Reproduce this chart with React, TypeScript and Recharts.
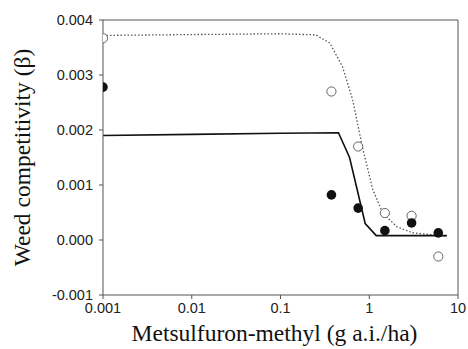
import { ComposedChart, Line, Scatter, XAxis, YAxis, ReferenceLine, Label } from "recharts";

// metsulfuron-methyl doses (control plotted at 0.001)
const doses = [0.001, 0.375, 0.75, 1.5, 3, 6];
const filledVals = [0.00278, 0.00082, 0.00058, 0.00017, 0.00031, 0.00013];
const openVals = [0.00367, 0.0027, 0.0017, 0.00049, 0.00044, -0.0003];

// fitted curves
const solidFitX = [0.001, 0.01, 0.1, 0.45, 0.6, 0.9, 1.2, 7.5];
const solidFitY = [0.0019, 0.00192, 0.00194, 0.00195, 0.0015, 0.0003, 0.00008, 0.00008];
const dottedFitX = [0.001, 0.1, 0.25, 0.36, 0.5, 0.65, 0.85, 1.1, 1.42, 2.05, 3.1, 7.4];
const dottedFitY = [0.00372, 0.00375, 0.00373, 0.00358, 0.00315, 0.00255, 0.00164, 0.00091, 0.00049, 0.00024, 0.00013, 0.00007];

const xTicks = [0.001, 0.01, 0.1, 1, 10];
const yTicks = [-0.001, 0, 0.001, 0.002, 0.003, 0.004];

const filled = doses.map((x, i) => ({ x, y: filledVals[i] }));
const open = doses.map((x, i) => ({ x, y: openVals[i] }));
const solidFit = solidFitX.map((x, i) => ({ x, y: solidFitY[i] }));
const dottedFit = dottedFitX.map((x, i) => ({ x, y: dottedFitY[i] }));

const tickStyle = { fill: "#222", fontSize: 14.5, fontFamily: "Liberation Sans, Arial, sans-serif" };
const titleStyle = { fill: "#111", fontSize: 23.5, fontFamily: "Liberation Serif, Times New Roman, serif" };

const FilledDot = (p: any) => <circle cx={p.cx} cy={p.cy} r={4.8} fill="#111" />;
const OpenDot = (p: any) => <circle cx={p.cx} cy={p.cy} r={4.6} fill="#fff" stroke="#666" strokeWidth={1} />;

export default function App() {
  return (
    <div style={{ position: "absolute", left: 0, top: 0, background: "#fff" }}>
      <ComposedChart width={468} height={349} margin={{ top: 20, right: 10, bottom: 0, left: 0 }}>
        <XAxis
          dataKey="x"
          type="number"
          scale="log"
          domain={[0.001, 10]}
          ticks={xTicks}
          allowDataOverflow
          tickFormatter={(v: number) => String(v)}
          tick={tickStyle}
          tickSize={4}
          tickMargin={4}
          height={54}
          stroke="#555"
        >
          <Label value="Metsulfuron-methyl (g a.i./ha)" position="insideBottom" offset={8} dx={-6} style={titleStyle} />
        </XAxis>
        <YAxis
          dataKey="y"
          type="number"
          domain={[-0.001, 0.004]}
          ticks={yTicks}
          allowDataOverflow
          tickFormatter={(v: number) => v.toFixed(3)}
          tick={tickStyle}
          tickSize={4}
          tickMargin={6}
          width={103}
          stroke="#555"
        >
          <Label value="Weed competitivity (β)" angle={-90} position="insideLeft" offset={22} style={{ ...titleStyle, textAnchor: "middle" }} />
        </YAxis>
        <ReferenceLine y={0.004} stroke="#555" ifOverflow="extendDomain" />
        <ReferenceLine x={10} stroke="#555" ifOverflow="extendDomain" />
        <Line data={dottedFit} dataKey="y" type="linear" stroke="#555" strokeWidth={1.3} strokeDasharray="1.5 2" dot={false} isAnimationActive={false} />
        <Line data={solidFit} dataKey="y" type="linear" stroke="#111" strokeWidth={1.6} dot={false} isAnimationActive={false} />
        <Scatter data={open} dataKey="y" shape={OpenDot} isAnimationActive={false} />
        <Scatter data={filled} dataKey="y" shape={FilledDot} isAnimationActive={false} />
      </ComposedChart>
    </div>
  );
}
